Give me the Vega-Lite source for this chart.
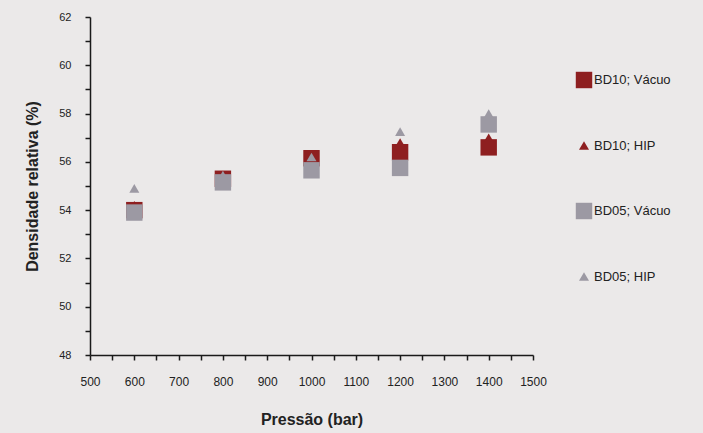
{
  "$schema": "https://vega.github.io/schema/vega-lite/v6.json",
  "width": 443,
  "height": 338,
  "autosize": {"type": "none"},
  "padding": {"left": 90, "top": 17, "right": 170, "bottom": 78},
  "background": "#ebe9e9",
  "config": {
    "view": {"stroke": null},
    "font": "Liberation Sans",
    "point": {"filled": true, "opacity": 1}
  },
  "data": {
    "values": [
      {"p": 600, "d": 54.0, "s": "BD10; Vácuo"},
      {"p": 800, "d": 55.3, "s": "BD10; Vácuo"},
      {"p": 1000, "d": 56.15, "s": "BD10; Vácuo"},
      {"p": 1200, "d": 56.4, "s": "BD10; Vácuo"},
      {"p": 1400, "d": 56.6, "s": "BD10; Vácuo"},
      {"p": 600, "d": 54.2, "s": "BD10; HIP"},
      {"p": 800, "d": 55.45, "s": "BD10; HIP"},
      {"p": 1000, "d": 56.1, "s": "BD10; HIP"},
      {"p": 1200, "d": 56.8, "s": "BD10; HIP"},
      {"p": 1400, "d": 57.0, "s": "BD10; HIP"},
      {"p": 600, "d": 53.9, "s": "BD05; Vácuo"},
      {"p": 800, "d": 55.15, "s": "BD05; Vácuo"},
      {"p": 1000, "d": 55.65, "s": "BD05; Vácuo"},
      {"p": 1200, "d": 55.75, "s": "BD05; Vácuo"},
      {"p": 1400, "d": 57.55, "s": "BD05; Vácuo"},
      {"p": 600, "d": 54.9, "s": "BD05; HIP"},
      {"p": 800, "d": 55.45, "s": "BD05; HIP"},
      {"p": 1000, "d": 56.2, "s": "BD05; HIP"},
      {"p": 1200, "d": 57.25, "s": "BD05; HIP"},
      {"p": 1400, "d": 58.0, "s": "BD05; HIP"}
    ]
  },
  "encoding": {
    "x": {
      "field": "p", "type": "quantitative",
      "scale": {"domain": [500, 1500], "nice": false, "zero": false},
      "axis": {
        "values": [500,550,600,650,700,750,800,850,900,950,1000,1050,1100,1150,1200,1250,1300,1350,1400,1450,1500],
        "labelExpr": "datum.value % 100 == 0 ? datum.label : ''",
        "format": "d",
        "labelFlush": false, "labelOverlap": false,
        "grid": false,
        "domainColor": "#1a1a1a", "domainWidth": 1.5,
        "tickColor": "#1a1a1a", "tickWidth": 1.5, "tickSize": 5,
        "labelFont": "Liberation Sans", "labelFontSize": 12, "labelColor": "#222",
        "labelPadding": 16,
        "title": "Pressão (bar)", "titleFont": "Liberation Sans", "titleFontSize": 16,
        "titleFontWeight": "bold", "titleColor": "#222", "titlePadding": 24
      }
    },
    "y": {
      "field": "d", "type": "quantitative",
      "scale": {"domain": [48, 62], "nice": false, "zero": false},
      "axis": {
        "values": [48,49,50,51,52,53,54,55,56,57,58,59,60,61,62],
        "labelExpr": "datum.value % 2 == 0 ? datum.label : ''",
        "labelFlush": false, "labelOverlap": false,
        "grid": false,
        "domainColor": "#1a1a1a", "domainWidth": 1.5,
        "tickColor": "#1a1a1a", "tickWidth": 1.5, "tickSize": 5,
        "labelFont": "Liberation Sans", "labelFontSize": 11, "labelColor": "#222",
        "labelPadding": 14,
        "title": "Densidade relativa (%)", "titleFont": "Liberation Sans", "titleFontSize": 16,
        "titleFontWeight": "bold", "titleColor": "#222", "titlePadding": 18
      }
    },
    "color": {
      "field": "s", "type": "nominal",
      "scale": {"domain": ["BD10; Vácuo", "BD10; HIP", "BD05; Vácuo", "BD05; HIP"],
                "range": ["#8e1f20", "#8e1f20", "#9c99a3", "#9c99a3"]},
      "legend": {
        "title": null, "orient": "none", "legendX": 485, "legendY": 54,
        "rowPadding": 46, "labelFontSize": 13, "labelColor": "#222",
        "labelFont": "Liberation Sans", "labelOffset": 1, "symbolOpacity": 1
      }
    },
    "shape": {
      "field": "s", "type": "nominal",
      "scale": {"domain": ["BD10; Vácuo", "BD10; HIP", "BD05; Vácuo", "BD05; HIP"],
                "range": ["square", "triangle-up", "square", "triangle-up"]}
    },
    "size": {
      "field": "s", "type": "nominal",
      "scale": {"type": "ordinal", "domain": ["BD10; Vácuo", "BD10; HIP", "BD05; Vácuo", "BD05; HIP"],
                "range": [270, 100, 270, 100]}
    }
  },
  "layer": [
    {"transform": [{"filter": "datum.s == 'BD10; Vácuo'"}], "mark": "point"},
    {"transform": [{"filter": "datum.s == 'BD10; HIP'"}], "mark": "point"},
    {"transform": [{"filter": "datum.s == 'BD05; Vácuo'"}], "mark": "point"},
    {"transform": [{"filter": "datum.s == 'BD05; HIP'"}], "mark": "point"}
  ]
}
